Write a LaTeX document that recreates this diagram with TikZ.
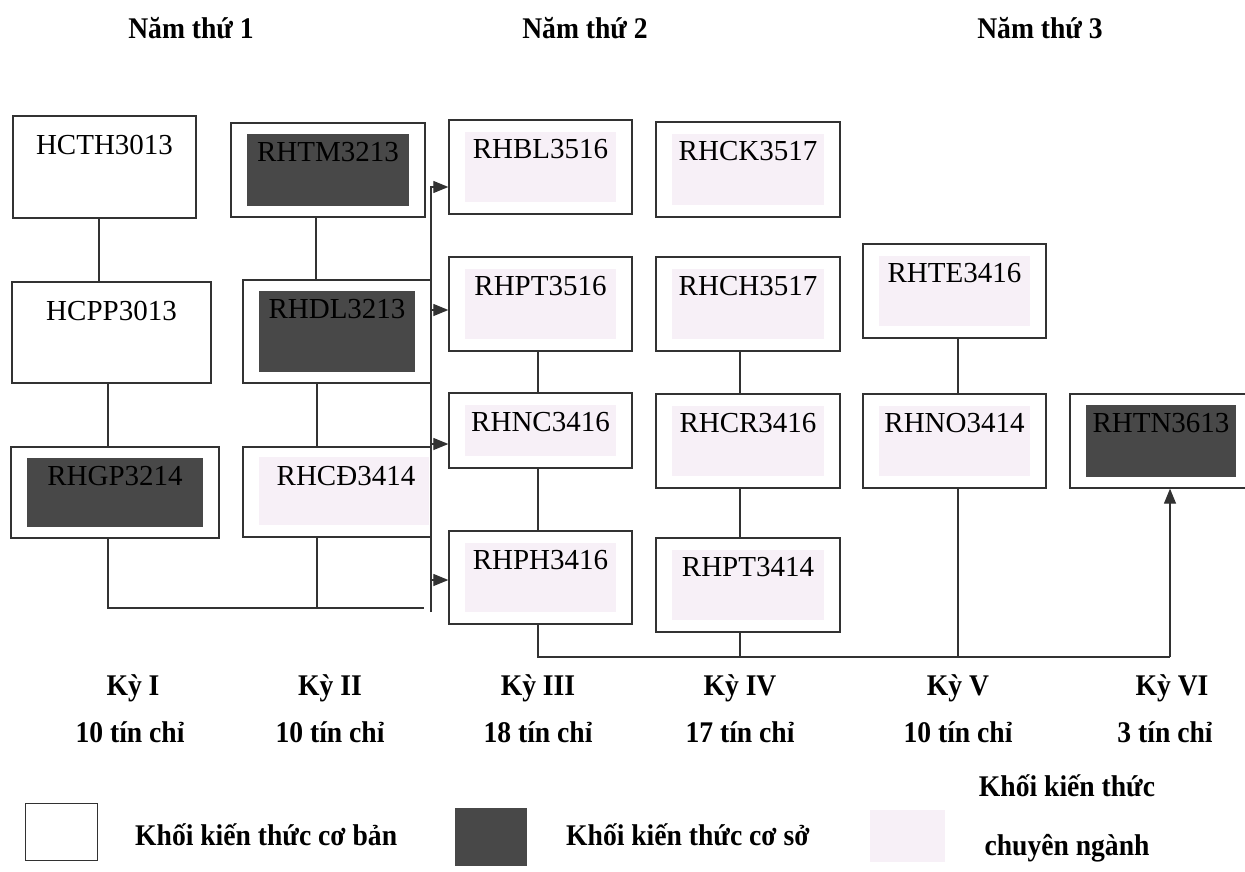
\documentclass[tikz,border=0pt]{standalone}
\usepackage{fontspec}
\setmainfont{Liberation Serif}
\newfontfamily\hfont{Liberation Serif}[FakeStretch=0.92]
\usetikzlibrary{arrows.meta,calc}
\definecolor{darkfill}{RGB}{72,72,72}
\definecolor{pinkfill}{RGB}{247,240,247}
\definecolor{linec}{RGB}{50,50,50}
\tikzset{
  cbox/.style={draw=linec,line width=1.3pt,rectangle,inner sep=0pt,fill=white},
  clab/.style={inner sep=0pt,font=\fontsize{29}{31}\selectfont},
  hdr/.style={inner sep=0pt,font=\hfont\fontsize{30}{32}\selectfont\bfseries},
  ln/.style={draw=linec,line width=1.2pt},
  arr/.style={draw=linec,line width=1.2pt,-{Triangle[length=15pt,width=12pt]}},
}
\newcommand\mkbox[5]{%
  \node[cbox,minimum width={(#4-#2)*1pt},minimum height={(#5-#3)*1pt}] (#1) at ({(#2+#4)/2},{(#3+#5)/2}) {};}
\newcommand\plaincourse[6]{\mkbox{#1}{#2}{#3}{#4}{#5}%
  \node[clab] (#1-t) at ({(#2+#4)/2},{#3+29}) {#6};}
\newcommand\darkcourse[6]{\mkbox{#1}{#2}{#3}{#4}{#5}%
  \fill[darkfill] ({#2+16},{#3+11}) rectangle ({#4-16},{#5-11});
  \node[clab] (#1-t) at ({(#2+#4)/2},{#3+29}) {#6};}
\newcommand\pinkcourse[6]{\mkbox{#1}{#2}{#3}{#4}{#5}%
  \fill[pinkfill] ({#2+16},{#3+12}) rectangle ({#4-16},{#5-12});
  \node[clab] (#1-t) at ({(#2+#4)/2},{#3+29}) {#6};}
\begin{document}
\begin{tikzpicture}[x=1pt,y=-1pt]
\useasboundingbox[fill=white] (0,0) rectangle (1245,872);
% headers
\node[hdr] (y1) at (191,28) {Năm thứ 1};
\node[hdr] (y2) at (585,28) {Năm thứ 2};
\node[hdr] (y3) at (1040,28) {Năm thứ 3};
% column 1
\plaincourse{hcth}{13}{116}{196}{218}{HCTH3013}
\plaincourse{hcpp}{12}{282}{211}{383}{HCPP3013}
\darkcourse{rhgp}{11}{447}{219}{538}{RHGP3214}
% column 2
\darkcourse{rhtm}{231}{123}{425}{217}{RHTM3213}
\darkcourse{rhdl}{243}{280}{431}{383}{RHDL3213}
\mkbox{rhcd}{243}{447}{431}{537}
\fill[pinkfill] (259,457) rectangle (429,525);
\node[clab] (rhcd-t) at (346,476) {RHCĐ3414};
% column 3
\pinkcourse{rhbl}{449}{120}{632}{214}{RHBL3516}
\pinkcourse{rhpt}{449}{257}{632}{351}{RHPT3516}
\pinkcourse{rhnc}{449}{393}{632}{468}{RHNC3416}
\pinkcourse{rhph}{449}{531}{632}{624}{RHPH3416}
% column 4
\pinkcourse{rhck}{656}{122}{840}{217}{RHCK3517}
\pinkcourse{rhch}{656}{257}{840}{351}{RHCH3517}
\pinkcourse{rhcr}{656}{394}{840}{488}{RHCR3416}
\pinkcourse{rhpt4}{656}{538}{840}{632}{RHPT3414}
% column 5
\pinkcourse{rhte}{863}{244}{1046}{338}{RHTE3416}
\pinkcourse{rhno}{863}{394}{1046}{488}{RHNO3414}
% column 6
\darkcourse{rhtn}{1070}{394}{1252}{488}{RHTN3613}
% connector coordinates
\coordinate (j1) at (424,608);
\coordinate (b0) at (431,612);
\coordinate (b1) at (431,187);
\coordinate (b2) at (431,310);
\coordinate (b3) at (431,444);
\coordinate (b4) at (431,580);
\coordinate (k1) at (538,657);
\coordinate (k2) at (1170,657);
% column 1 links
\draw[ln] ([xshift=-5.5pt]hcth.south) -- ([xshift=-5.5pt]hcth.south |- hcpp.north);
\draw[ln] ([xshift=-7pt]rhgp.north |- hcpp.south) -- ([xshift=-7pt]rhgp.north);
\draw[ln] ([xshift=-7pt]rhgp.south) |- (j1);
% column 2 links
\draw[ln] ([xshift=-12pt]rhtm.south) -- ([xshift=-12pt]rhtm.south |- rhdl.north);
\draw[ln] ([xshift=-20pt]rhdl.south) -- ([xshift=-20pt]rhdl.south |- rhcd.north);
\draw[ln] ([xshift=-20pt]rhcd.south) -- ([xshift=-20pt]rhcd.south |- j1);
% bus and arrows
\draw[arr] (b0) -- (b1) -- (rhbl.west |- b1);
\draw[arr] (b2) -- (rhpt.west |- b2);
\draw[arr] (b3) -- (rhnc.west |- b3);
\draw[arr] (b4) -- (rhph.west |- b4);
% column 3 links
\draw[ln] ([xshift=-2.5pt]rhpt.south) -- ([xshift=-2.5pt]rhpt.south |- rhnc.north);
\draw[ln] ([xshift=-2.5pt]rhnc.south) -- ([xshift=-2.5pt]rhnc.south |- rhph.north);
\draw[ln] ([xshift=-2.5pt]rhph.south) |- (k2);
% column 4 links
\draw[ln] ([xshift=-8pt]rhch.south) -- ([xshift=-8pt]rhch.south |- rhcr.north);
\draw[ln] ([xshift=-8pt]rhcr.south) -- ([xshift=-8pt]rhcr.south |- rhpt4.north);
\draw[ln] ([xshift=-8pt]rhpt4.south) -- ([xshift=-8pt]rhpt4.south |- k1);
% column 5 links
\draw[ln] ([xshift=3.5pt]rhte.south) -- ([xshift=3.5pt]rhte.south |- rhno.north);
\draw[ln] ([xshift=3.5pt]rhno.south) -- ([xshift=3.5pt]rhno.south |- k1);
% to RHTN
\draw[arr] (k2) -- (rhtn.south -| k2);
% semester labels
\node[hdr] (s1) at (133,688) {Kỳ I};
\node[hdr] (s2) at (330,688) {Kỳ II};
\node[hdr] (s3) at (538,688) {Kỳ III};
\node[hdr] (s4) at (740,688) {Kỳ IV};
\node[hdr] (s5) at (958,688) {Kỳ V};
\node[hdr] (s6) at (1172,688) {Kỳ VI};
\node[hdr] (c1) at (130,732) {10 tín chỉ};
\node[hdr] (c2) at (330,732) {10 tín chỉ};
\node[hdr] (c3) at (538,732) {18 tín chỉ};
\node[hdr] (c4) at (740,732) {17 tín chỉ};
\node[hdr] (c5) at (958,732) {10 tín chỉ};
\node[hdr] (c6) at (1165,732) {3 tín chỉ};
% legend
\node[draw=linec,line width=1pt,minimum width=72pt,minimum height=57pt,inner sep=0pt] (lg1) at (61,831.5) {};
\node[fill=darkfill,minimum width=72pt,minimum height=58pt,inner sep=0pt] (lg2) at (491,837) {};
\node[fill=pinkfill,minimum width=75pt,minimum height=52pt,inner sep=0pt] (lg3) at (907.5,836) {};
\node[hdr,anchor=west] (lt1) at (135,835) {Khối kiến thức cơ bản};
\node[hdr,anchor=west] (lt2) at (566,835) {Khối kiến thức cơ sở};
\node[hdr] (lt3) at (1067,786) {Khối kiến thức};
\node[hdr] (lt4) at (1067,848) {chuyên ngành};
\end{tikzpicture}
\end{document}
